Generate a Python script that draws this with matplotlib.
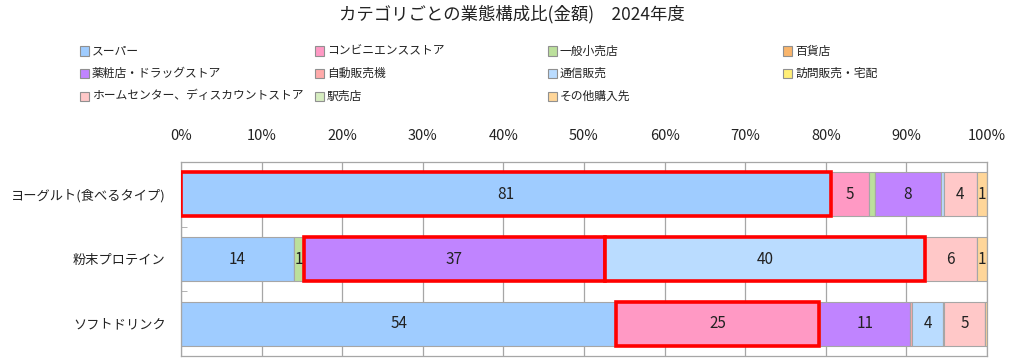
import matplotlib
matplotlib.use('Agg')
import matplotlib.pyplot as plt
import matplotlib.patches as mpatches
import numpy as np

plt.rcParams['font.family'] = ['Noto Sans CJK JP', 'DejaVu Sans']

# ── Data ──────────────────────────────────────────────────────────────────────
categories = ['ヨーグルト(食べるタイプ)', '粉末プロテイン', 'ソフトドリンク']

channels = ['スーパー', 'コンビニエンスストア', '一般小売店', '百貨店',
            '薬粧店・ドラッグストア', '自動販売機', '通信販売', '訪問販売・宅配',
            'ホームセンター、ディスカウントストア', '駅売店', 'その他購入先']

colors = ['#9FCCFF', '#FF99C4', '#BCE09C', '#F9B56B',
          '#C084FF', '#FFAAAA', '#BADCFF', '#FFEE77',
          '#FFC8C8', '#D6EDC0', '#FFD699']

# share (%) per channel, one list per category order above
super_vals   = [80.6, 14.0, 54.0]
conv_vals    = [4.7, 0.0, 25.2]
general_vals = [0.8, 1.2, 0.1]
dept_vals    = [0.0, 0.0, 0.0]
drug_vals    = [8.2, 37.4, 11.1]
vending_vals = [0.0, 0.0, 0.3]
mail_vals    = [0.4, 39.7, 3.9]
visit_vals   = [0.0, 0.0, 0.1]
home_vals    = [4.0, 6.4, 5.0]
station_vals = [0.0, 0.0, 0.0]
other_vals   = [1.3, 1.3, 0.3]

series = [super_vals, conv_vals, general_vals, dept_vals, drug_vals,
          vending_vals, mail_vals, visit_vals, home_vals, station_vals,
          other_vals]

# (channel index, category index) segments outlined in red
highlights = [(0, 0), (4, 1), (6, 1), (1, 2)]

x_ticks = [0, 10, 20, 30, 40, 50, 60, 70, 80, 90, 100]

W, H = 1024, 360
TXT = '#222222'
EDGE = '#A6A6A6'

# ── Figure ────────────────────────────────────────────────────────────────────
fig = plt.figure(figsize=(W / 100, H / 100), dpi=100, facecolor='white')
ax = fig.add_axes([181 / W, 1 - 356 / H, 806 / W, (356 - 162) / H])

y = np.arange(len(categories))
left = np.zeros(len(categories))
bar_h = 0.68
for si, (vals, col) in enumerate(zip(series, colors)):
    vals = np.array(vals)
    bars = ax.barh(y, vals, left=left, height=bar_h, color=col,
                   edgecolor=EDGE, linewidth=0.8, zorder=2)
    for ci, (b, v) in enumerate(zip(bars, vals)):
        if (si, ci) in highlights:
            b.set_edgecolor('#FF0000')
            b.set_linewidth(2.6)
            b.set_zorder(3)
        if v >= 1.0:
            ax.text(left[ci] + v / 2, y[ci], f'{v:.0f}', ha='center',
                    va='center', fontsize=11, color=TXT, zorder=4)
    left += vals

ax.set_xlim(0, 100)
ax.set_ylim(len(categories) - 0.5, -0.5)
ax.set_xticks(x_ticks)
ax.set_xticklabels([f'{t}%' for t in x_ticks], fontsize=10.5, color=TXT)
ax.xaxis.tick_top()
ax.tick_params(axis='x', length=0, pad=14)
ax.set_yticks(y)
ax.set_yticklabels(categories, fontsize=9.5, color=TXT)
ax.tick_params(axis='y', length=0, pad=11)
ax.set_yticks([0.5, 1.5], minor=True)
ax.tick_params(axis='y', which='minor', length=4, direction='in', color=EDGE)
ax.grid(axis='x', color=EDGE, linewidth=0.9, zorder=0)
ax.set_axisbelow(True)
for sp in ax.spines.values():
    sp.set_color(EDGE)
    sp.set_linewidth(0.9)

fig.text(0.5, 1 - 14 / H, 'カテゴリごとの業態構成比(金額)\u30002024年度',
         ha='center', va='center', fontsize=12.5, color=TXT)

# ── Legend: 4 fixed-width columns, filled row by row ─────────────────────────
col_x = [80, 315, 548, 783]
row_y = [51, 73, 96]
box = 9
for i, (name, col) in enumerate(zip(channels, colors)):
    r, c = divmod(i, len(col_x))
    x0, yc = col_x[c], row_y[r]
    fig.patches.append(mpatches.Rectangle(
        (x0 / W, 1 - (yc + box / 2) / H), box / W, box / H,
        transform=fig.transFigure, facecolor=col, edgecolor='#909090',
        linewidth=0.8))
    fig.text((x0 + box + 3) / W, 1 - yc / H, name, ha='left', va='center',
             fontsize=8.5, color=TXT)

fig.savefig('out.png', dpi=100, facecolor='white')
